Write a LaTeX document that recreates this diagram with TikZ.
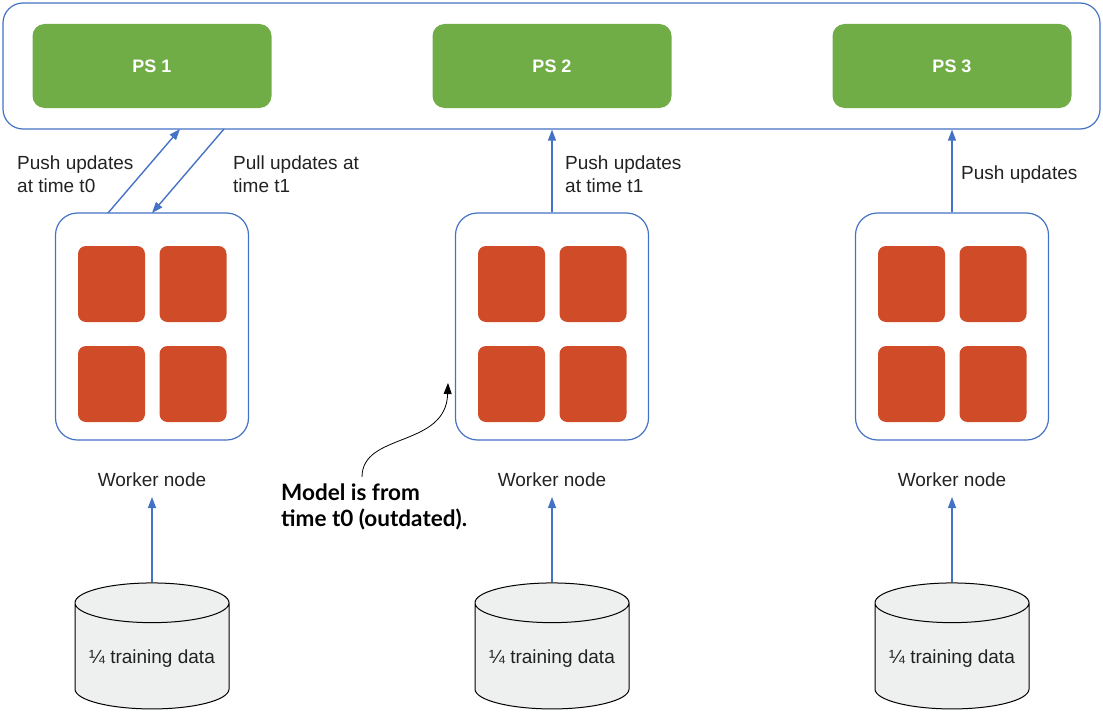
\documentclass[tikz,border=0pt]{standalone}
\usepackage{fontspec}
\setmainfont{Liberation Sans}
\newfontfamily\calloutfont{Lato}
\usetikzlibrary{shapes.geometric,arrows.meta}
\definecolor{psgreen}{HTML}{70AD47}
\definecolor{corered}{HTML}{D04B28}
\definecolor{edgeblue}{HTML}{4472C4}
\definecolor{diskgray}{HTML}{EEEFEF}
\definecolor{txt}{HTML}{222222}
\begin{document}
\begin{tikzpicture}[x=1pt,y=-1pt,
  psbox/.style={draw=none,fill=psgreen,rounded corners=12pt,minimum width=239pt,minimum height=84pt,text=white,font=\fontsize{18}{20}\selectfont\bfseries},
  wbox/.style={draw=edgeblue,line width=1.2pt,fill=white,rounded corners=22pt,minimum width=193pt,minimum height=227pt},
  core/.style={fill=corered,rounded corners=8pt,minimum width=67pt,minimum height=76pt,inner sep=0pt},
  disk/.style={cylinder,shape border rotate=90,draw=black,line width=1pt,fill=diskgray,minimum width=154pt,minimum height=126pt,aspect=0.3,font=\fontsize{19}{22}\selectfont,text=txt},
  lbl/.style={font=\fontsize{19}{23}\selectfont,text=txt,align=left,inner sep=0pt},
  flow/.style={draw=edgeblue,line width=1.4pt,-{Triangle[length=11pt,width=8pt]}}
]
\useasboundingbox (0,0) rectangle (1103,717);
\node[draw=edgeblue,line width=1.2pt,rounded corners=20pt,minimum width=1097pt,minimum height=126pt] (ps) at (551.5,66) {};
\foreach \i/\x in {1/152,2/552,3/952}{
  \node[psbox] (ps\i) at (\x,66) {PS \i};
  \node[wbox] (w\i) at (\x,326.5) {};
  \node[core] (c\i a) at (\x-40.5,284) {};
  \node[core] (c\i b) at (\x+41,284) {};
  \node[core] (c\i c) at (\x-40.5,384) {};
  \node[core] (c\i d) at (\x+41,384) {};
  \node[lbl] (wl\i) at (\x,480) {Worker node};
  \node[disk] (d\i) at (\x,659) {\textonequarter{} training data};
  \draw[flow] (d\i.top) -- (\x,497);
}
% push/pull arrows
\coordinate (w1p) at (108,213);
\coordinate (ps1p) at (180,129);
\coordinate (ps1q) at (224,129);
\coordinate (w1q) at (152,213);
\draw[flow] (w1p) -- (ps1p);
\draw[flow] (ps1q) -- (w1q);
\draw[flow] (w2.north) -- (w2.north |- ps.south);
\draw[flow] (w3.north) -- (w3.north |- ps.south);
\node[lbl,anchor=west] (t1) at (17,174) {Push updates\\at time t0};
\node[lbl,anchor=west] (t2) at (233,174) {Pull updates at\\time t1};
\node[lbl,anchor=west] (t3) at (565,174) {Push updates\\at time t1};
\node[lbl,anchor=west] (t4) at (961,175) {Push updates};
% callout
\node[lbl,anchor=west,font=\calloutfont\fontsize{22.5}{26}\selectfont\bfseries,text=black] (co) at (281,507) {Model is from\\time t0 (outdated).};
\coordinate (cs) at (362,477);
\coordinate (ce) at (448,383);
\draw[black,line width=0.8pt,-{Triangle[length=11pt,width=8pt]}] (cs) .. controls (362,432) and (446,448) .. (ce);
\end{tikzpicture}
\end{document}
